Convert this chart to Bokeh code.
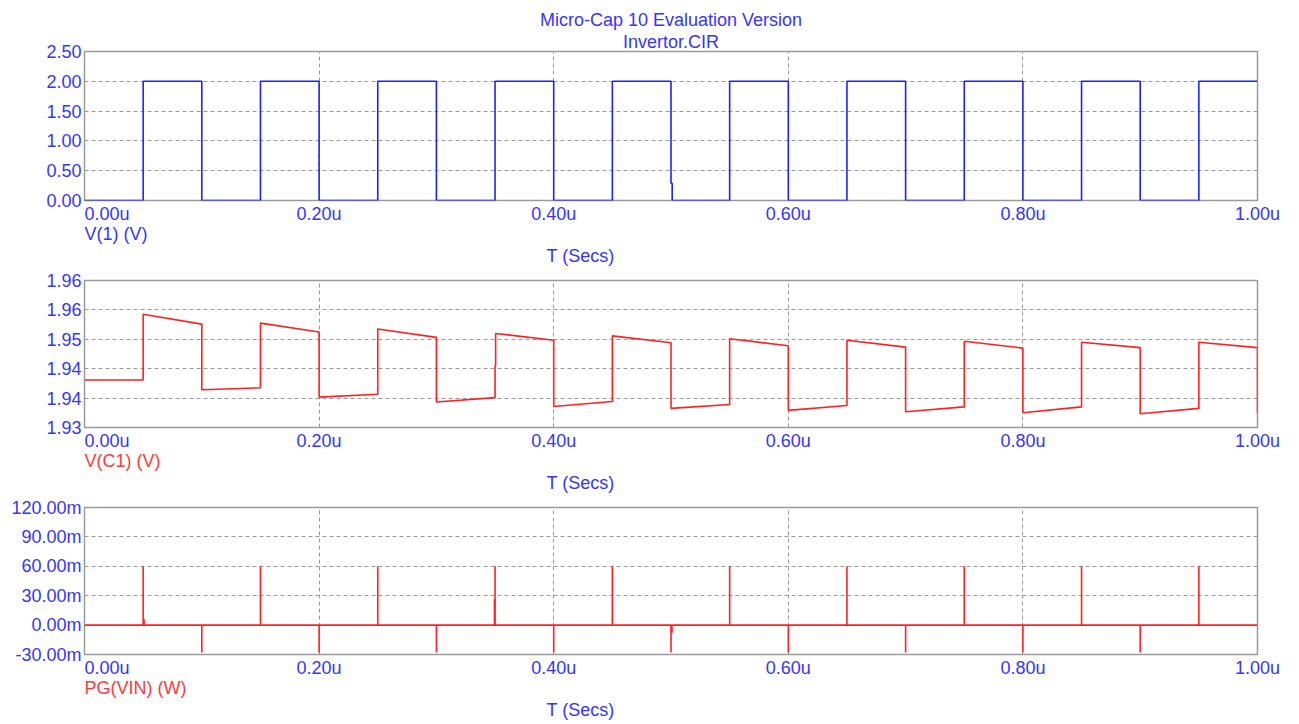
from bokeh.plotting import figure
from bokeh.layouts import column
from bokeh.models import FixedTicker, Title
from bokeh.embed import file_html
from bokeh.resources import INLINE

# ---------------- data ----------------
title_lines = ["Micro-Cap 10 Evaluation Version", "Invertor.CIR"]
x_title = "T (Secs)"
x_ticks = [0.0, 0.2, 0.4, 0.6, 0.8, 1.0]
x_tick_labels = ["0.00u", "0.20u", "0.40u", "0.60u", "0.80u", "1.00u"]

# V(1)
v1_name = "V(1) (V)"
v1_ticks = [0.0, 0.5, 1.0, 1.5, 2.0, 2.5]
v1_tick_labels = ["0.00", "0.50", "1.00", "1.50", "2.00", "2.50"]
v1_t = [0.0, 0.05, 0.05, 0.10, 0.10, 0.15, 0.15, 0.20, 0.20, 0.25, 0.25, 0.30, 0.30,
        0.35, 0.35, 0.40, 0.40, 0.45, 0.45, 0.50, 0.50, 0.501, 0.501, 0.55, 0.55,
        0.60, 0.60, 0.65, 0.65, 0.70, 0.70, 0.75, 0.75, 0.80, 0.80, 0.85, 0.85,
        0.90, 0.90, 0.95, 0.95, 1.00]
v1_v = [0.0, 0.0, 2.0, 2.0, 0.0, 0.0, 2.0, 2.0, 0.0, 0.0, 2.0, 2.0, 0.0,
        0.0, 2.0, 2.0, 0.0, 0.0, 2.0, 2.0, 0.29, 0.29, 0.0, 0.0, 2.0,
        2.0, 0.0, 0.0, 2.0, 2.0, 0.0, 0.0, 2.0, 2.0, 0.0, 0.0, 2.0,
        2.0, 0.0, 0.0, 2.0, 2.0]

# V(C1)
vc1_name = "V(C1) (V)"
vc1_ticks = [1.930, 1.936, 1.942, 1.948, 1.954, 1.960]
vc1_tick_labels = ["1.93", "1.94", "1.94", "1.95", "1.96", "1.96"]
vc1_t = [0.0, 0.05, 0.05, 0.10, 0.10, 0.15, 0.15, 0.20, 0.20, 0.25, 0.25, 0.30, 0.30,
         0.35, 0.35, 0.3505, 0.3505, 0.40, 0.40, 0.45, 0.45, 0.50, 0.50, 0.55, 0.55,
         0.60, 0.60, 0.65, 0.65, 0.70, 0.70, 0.75, 0.75, 0.80, 0.80, 0.85, 0.85,
         0.90, 0.90, 0.95, 0.95, 1.00, 1.00]
vc1_v = [1.9397, 1.9397, 1.9531, 1.9511, 1.9377, 1.9381, 1.9513, 1.9495, 1.9362,
         1.9368, 1.9501, 1.9484, 1.9352, 1.9361, 1.9426, 1.9426, 1.9492, 1.9478,
         1.9343, 1.9353, 1.9487, 1.9473, 1.9339, 1.9347, 1.9481, 1.9467, 1.9335,
         1.9345, 1.9478, 1.9464, 1.9332, 1.9342, 1.9476, 1.9462, 1.9330, 1.9342,
         1.9474, 1.9463, 1.9328, 1.9339, 1.9474, 1.9463, 1.9330]

# PG(VIN)
pg_name = "PG(VIN) (W)"
pg_ticks = [-0.03, 0.0, 0.03, 0.06, 0.09, 0.12]
pg_tick_labels = ["-30.00m", "0.00m", "30.00m", "60.00m", "90.00m", "120.00m"]
pg_base_t = [0.0, 1.0]
pg_base_v = [0.0, 0.0]
pg_spike_t = [0.05, 0.0508, 0.10, 0.15, 0.20, 0.25, 0.30, 0.3495, 0.35, 0.40, 0.45,
              0.50, 0.5008, 0.55, 0.60, 0.65, 0.70, 0.75, 0.80, 0.85, 0.90, 0.95]
pg_spike_v = [0.06, 0.006, -0.028, 0.06, -0.028, 0.06, -0.028, 0.027, 0.06, -0.028, 0.06,
              -0.028, -0.008, 0.06, -0.028, 0.06, -0.028, 0.06, -0.028, 0.06, -0.028, 0.06]

# ---------------- style ----------------
W = 1299
LEFT, RIGHT = 84, 42
FRAME_W = W - LEFT - RIGHT
FONT = "Liberation Sans"
FS = "18px"
BLUE_TXT = "#3535ff"
RED_TXT = "#ff3a3a"
BLUE_LINE = "#2020ff"
RED_LINE = "#ff2020"
GRID = "#9a9a9a"
FRAME = "#9a9a9a"
FIRST_LABEL_SHIFT = 22.5   # px: first x label is left-aligned at the frame edge
XTITLE_OFFSET = 462        # px from frame left


def mk_title(text, color, align="center", offset=0, standoff=0):
    return Title(text=text, align=align, offset=offset, standoff=standoff,
                 text_font=FONT, text_font_size=FS, text_color=color,
                 text_font_style="normal")


def make_panel(height, top, frame_h, ticks, tick_labels, name, name_color):
    bottom = height - top - frame_h
    y0, y1 = ticks[0], ticks[-1]
    p = figure(width=W, height=height, x_range=(0, 1), y_range=(y0, y1),
               output_backend="svg", toolbar_location=None, title=None,
               min_border_left=LEFT, min_border_right=RIGHT,
               min_border_top=top, min_border_bottom=bottom)
    p.background_fill_color = "white"
    p.border_fill_color = "white"
    p.outline_line_color = FRAME
    p.outline_line_width = 1.5

    # y axis
    ax = p.yaxis[0]
    ax.ticker = FixedTicker(ticks=ticks)
    ax.major_label_overrides = {t: l for t, l in zip(ticks, tick_labels)}
    ax.major_label_standoff = 3
    # x axis (labels only)
    xa = p.xaxis[0]
    xpos = [x_ticks[0] + FIRST_LABEL_SHIFT / FRAME_W] + x_ticks[1:]
    xa.ticker = FixedTicker(ticks=xpos)
    xa.major_label_overrides = {t: l for t, l in zip(xpos, x_tick_labels)}
    xa.major_label_standoff = 3
    for a in (ax, xa):
        a.major_tick_out = 0
        a.major_tick_in = 0
        a.minor_tick_out = 0
        a.minor_tick_in = 0
        a.axis_line_color = None
        a.major_label_text_font = FONT
        a.major_label_text_font_size = FS
        a.major_label_text_color = BLUE_TXT

    p.xgrid.ticker = FixedTicker(ticks=x_ticks[1:-1])
    p.ygrid.ticker = FixedTicker(ticks=ticks[1:-1])
    for g in (p.xgrid, p.ygrid):
        g.grid_line_color = GRID
        g.grid_line_dash = "4 3"
        g.grid_line_width = 1

    p.add_layout(mk_title(name, name_color, align="left", offset=0, standoff=-10), "below")
    p.add_layout(mk_title(x_title, BLUE_TXT, align="left", offset=XTITLE_OFFSET,
                          standoff=10), "below")
    return p


# Panel 1
p1 = make_panel(270, 51, 149, v1_ticks, v1_tick_labels, v1_name, BLUE_TXT)
p1.line(v1_t, v1_v, line_color=BLUE_LINE, line_width=1.6)
for line in reversed(title_lines):
    p1.add_layout(mk_title(line, BLUE_TXT, align="center"), "above")

# Panel 2
p2 = make_panel(227, 10, 148, vc1_ticks, vc1_tick_labels, vc1_name, RED_TXT)
p2.line(vc1_t, vc1_v, line_color=RED_LINE, line_width=1.6)

# Panel 3
p3 = make_panel(227, 10, 149, pg_ticks, pg_tick_labels, pg_name, RED_TXT)
p3.line(pg_base_t, pg_base_v, line_color=RED_LINE, line_width=1.6)
p3.segment(x0=pg_spike_t, y0=[0.0] * len(pg_spike_t), x1=pg_spike_t, y1=pg_spike_v,
           line_color=RED_LINE, line_width=1.6)

layout = column(p1, p2, p3)
open("out.html", "w").write(file_html(layout, INLINE))
